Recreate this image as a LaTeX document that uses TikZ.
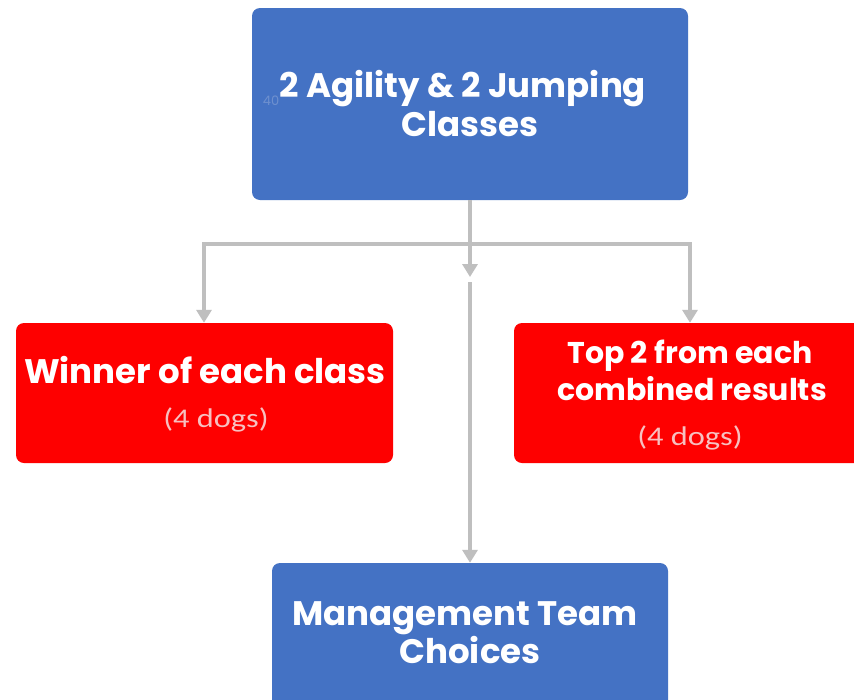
\documentclass[tikz,border=0pt]{standalone}
\usepackage{fontspec}
\setmainfont{Poppins}
\newfontfamily\lightfont{Carlito}
\usetikzlibrary{arrows.meta}
\definecolor{boxblue}{HTML}{4472C4}
\definecolor{boxred}{HTML}{FE0000}
\definecolor{linegray}{HTML}{BFBFBF}
\definecolor{dogpink}{HTML}{F7C0C0}
\definecolor{faint}{HTML}{6E90CF}
\tikzset{
  bluebox/.style={fill=boxblue, rounded corners=8pt, inner sep=0pt},
  redbox/.style={fill=boxred, rounded corners=8pt, inner sep=0pt},
  bigtext/.style={text=white, anchor=base, inner sep=0pt, font=\bfseries\fontsize{34}{40}\selectfont},
  midtext/.style={text=white, anchor=base, inner sep=0pt, font=\bfseries\fontsize{30}{36}\selectfont},
  dogs/.style={text=dogpink, anchor=base, inner sep=0pt, font=\lightfont\fontsize{27}{30}\selectfont},
  conn/.style={draw=linegray, line width=4.5pt},
  tip/.style={-{Triangle[width=15pt,length=13pt]}},
}
\newcommand{\dogtext}{\scalebox{1.2}[1]{(4 dogs)}}
\begin{document}
\begin{tikzpicture}[x=1pt,y=-1pt]
\clip (0,0) rectangle (854,699);
\fill[white] (0,0) rectangle (854,699);
\useasboundingbox (0,0) rectangle (854,699);
% boxes
\node[bluebox, minimum width=436pt, minimum height=192pt] (top) at (470,104) {};
\node[bigtext] (topl1) at (463,97) {2 Agility \& 2 Jumping};
\node[bigtext] (topl2) at (470,136) {Classes};
\node[text=faint, font=\fontsize{13}{14}\selectfont] (stray) at (271,101) {40};
\node[redbox, minimum width=377pt, minimum height=140pt] (win) at (204.5,393) {};
\node[bigtext] (wintext) at (205,383) {Winner of each class};
\node[dogs] (windogs) at (216,427) {\dogtext};
\node[redbox, minimum width=356pt, minimum height=140pt] (res) at (692,393) {};
\node[midtext] (resl1) at (690,363) {Top 2 from each};
\node[midtext] (resl2) at (692,400) {combined results};
\node[dogs] (resdogs) at (690,445) {\dogtext};
\node[bluebox, minimum width=396pt, minimum height=170pt] (mgmt) at (470,648) {};
\node[bigtext] (mgmtl1) at (465,625) {Management Team};
\node[bigtext] (mgmtl2) at (470,663) {Choices};
% connectors
\coordinate (split) at (470,244);
\coordinate (midtip) at (470,277);
\coordinate (midstart) at (470,282);
\draw[conn] (top.south) -- (split);
\draw[conn, tip] (split) -| (win.north -| 204,0);
\draw[conn, tip] (split) -| (res.north -| 690,0);
\draw[conn, tip] (split) -- (midtip);
\draw[conn, tip] (midstart) -- (mgmt.north);
\end{tikzpicture}
\end{document}
